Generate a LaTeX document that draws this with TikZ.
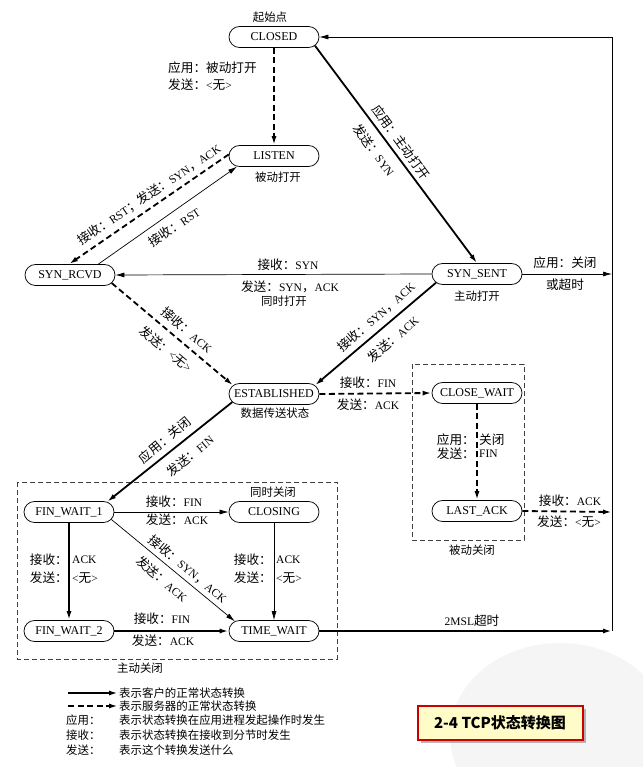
\documentclass[tikz,border=0pt]{standalone}
\usepackage{fontspec}
\setmainfont{Liberation Serif}
\newfontfamily\cjk[Scale=1.1]{Noto Sans CJK SC}
\newfontfamily\cjkt{Noto Sans CJK SC}
\usetikzlibrary{shapes.misc,arrows.meta,shadows}
\newcommand\zh[1]{{\cjk #1}}
\tikzset{
  stt/.style={rounded rectangle, draw, line width=0.75pt, minimum width=92pt,
    minimum height=21pt, inner sep=1pt, font=\fontsize{12}{14}\selectfont},
  lbl/.style={font=\fontsize{11.5}{13}\selectfont, inner sep=0pt},
  note/.style={font=\cjk\fontsize{10.4}{12}\selectfont, inner sep=0pt},
  arr/.style={-{Latex[length=9pt,width=5pt]}},
  client/.style={line width=1.8pt, arr},
  server/.style={line width=1.8pt, dash pattern=on 6pt off 3.5pt, arr},
  plain/.style={line width=0.7pt, arr},
  grp/.style={draw=black!75, line width=0.6pt, dash pattern=on 5pt off 3pt},
}
\begin{document}
\begin{tikzpicture}[x=1pt,y=-1pt]
\useasboundingbox (0,0) rectangle (642,767);
\fill[white] (0,0) rectangle (642,767);
% faint watermark
\fill[black!4] (560,735) ellipse [x radius=110, y radius=92];

% groups
\draw[grp] (412,364) rectangle (524,540);
\draw[grp] (17,482) rectangle (337,659);

% states
\node[stt] (closed) at (274,37) {CLOSED};
\node[stt] (listen) at (274,156) {LISTEN};
\node[stt] (rcvd) at (70,275) {SYN\_RCVD};
\node[stt] (sent) at (477,274) {SYN\_SENT};
\node[stt] (est) at (274,394) {ESTABLISHED};
\node[stt] (cw) at (477,393) {CLOSE\_WAIT};
\node[stt] (la) at (477,511) {LAST\_ACK};
\node[stt] (fw1) at (69,512) {FIN\_WAIT\_1};
\node[stt] (closing) at (274,512) {CLOSING};
\node[stt] (fw2) at (69,631) {FIN\_WAIT\_2};
\node[stt] (tw) at (274,631) {TIME\_WAIT};

\coordinate (r0) at (612,37);
\coordinate (r1) at (612,274);
\coordinate (r2) at (612,512);
\coordinate (r3) at (612,631);

% transitions
\draw[server] (closed.south) -- (listen.north);
\draw[client] (closed.-12) -- (sent.north);
\draw[server] (listen.178) -- (rcvd.95);
\draw[plain] (rcvd.21) -- (listen.196);
\draw[plain] (sent.west) -- (rcvd.east);
\draw[server] (rcvd.-11) -- (est.168);
\draw[client] (sent.192) -- (est.12);
\draw[server] (est.east) -- (cw.west);
\draw[server] (cw.south) -- (la.north);
\draw[server] (la.east) -- (r2);
\draw[client] (est.191) -- (fw1.15);
\draw[plain] (fw1.east) -- (closing.west);
\draw[client] (fw1.south) -- (fw2.north);
\draw[plain] (fw1.-10) -- (tw.166);
\draw[plain] (closing.south) -- (tw.north);
\draw[client] (fw2.east) -- (tw.west);
\draw[client] (tw.east) -- (r3);
\draw[plain] (sent.east) -- (r1);
\draw[plain] (r3) -- (r0) -- (closed.east);

% labels
\node[note] (n0) at (270,17) {起始点};
\node[lbl,anchor=west] (t1) at (168,68) {\zh{应用：被动打开}};
\node[lbl,anchor=west] (t2) at (168,85) {\zh{发送：}<\zh{无}>};
\node[lbl,rotate=-54] (t3) at (401,142) {\zh{应用：主动打开}};
\node[lbl,rotate=-54] (t4) at (374,150) {\zh{发送：}SYN};
\node[lbl,rotate=34] (t5) at (149,195) {\zh{接收：}RST\zh{；发送：}SYN\zh{，}ACK};
\node[lbl,rotate=34] (t6) at (174,227) {\zh{接收：}RST};
\node[note] (n1) at (278,177) {被动打开};
\node[lbl] (t7) at (288,265) {\zh{接收：}SYN};
\node[lbl] (t8) at (290,287) {\zh{发送：}SYN\zh{，}ACK};
\node[note] (n2) at (284,301) {同时打开};
\node[note] (n3) at (477,296) {主动打开};
\node[lbl] (t9) at (565,263) {\zh{应用：关闭}};
\node[lbl] (t10) at (565,285) {\zh{或超时}};
\node[lbl,rotate=-40] (t11) at (187,330) {\zh{接收：}ACK};
\node[lbl,rotate=-40] (t12) at (166,349) {\zh{发送：}<\zh{无}>};
\node[lbl,rotate=41] (t13) at (376,317) {\zh{接收：}SYN\zh{，}ACK};
\node[lbl,rotate=41] (t14) at (393,339) {\zh{发送：}ACK};
\node[lbl] (t15) at (368,383) {\zh{接收：}FIN};
\node[lbl] (t16) at (368,405) {\zh{发送：}ACK};
\node[note] (n4) at (275,413) {数据传送状态};
\node[lbl,anchor=east] (t17) at (475,440) {\zh{应用：}};
\node[lbl,anchor=west] (t18) at (479,440) {\zh{关闭}};
\node[lbl,anchor=east] (t19) at (475,454) {\zh{发送：}};
\node[lbl,anchor=west] (t20) at (479,454) {FIN};
\node[lbl] (t21) at (570,501) {\zh{接收：}ACK};
\node[lbl] (t22) at (569,522) {\zh{发送：}<\zh{无}>};
\node[note] (n5) at (472,550) {被动关闭};
\node[lbl,rotate=40] (t23) at (165,440) {\zh{应用：关闭}};
\node[lbl,rotate=40] (t24) at (190,456) {\zh{发送：}FIN};
\node[lbl] (t25) at (174,502) {\zh{接收：}FIN};
\node[lbl] (t26) at (177,520) {\zh{发送：}ACK};
\node[note] (n6) at (273,492) {同时关闭};
\node[lbl,anchor=east] (t27) at (68,560) {\zh{接收：}};
\node[lbl,anchor=west] (t28) at (72,560) {ACK};
\node[lbl,anchor=east] (t29) at (68,578) {\zh{发送：}};
\node[lbl,anchor=west] (t30) at (72,578) {<\zh{无}>};
\node[lbl,anchor=east] (t31) at (272,560) {\zh{接收：}};
\node[lbl,anchor=west] (t32) at (276,560) {ACK};
\node[lbl,anchor=east] (t33) at (272,578) {\zh{发送：}};
\node[lbl,anchor=west] (t34) at (276,578) {<\zh{无}>};
\node[lbl,rotate=-40] (t35) at (188,569) {\zh{接收：}SYN\zh{，}ACK};
\node[lbl,rotate=-40] (t36) at (162,579) {\zh{发送：}ACK};
\node[lbl] (t37) at (162,619) {\zh{接收：}FIN};
\node[lbl] (t38) at (163,641) {\zh{发送：}ACK};
\node[lbl] (t39) at (472,621) {2MSL\zh{超时}};
\node[note] (n7) at (140,668) {主动关闭};

% legend
\coordinate (la1) at (68,693);
\coordinate (lb1) at (118,693);
\coordinate (la2) at (68,706);
\coordinate (lb2) at (118,706);
\draw[client] (la1) -- (lb1);
\draw[server] (la2) -- (lb2);
\node[note,anchor=west] (g1) at (119,693) {表示客户的正常状态转换};
\node[note,anchor=west] (g2) at (119,706) {表示服务器的正常状态转换};
\node[note,anchor=west] (g3) at (66,720) {应用：};
\node[note,anchor=west] (g4) at (119,720) {表示状态转换在应用进程发起操作时发生};
\node[note,anchor=west] (g5) at (66,735) {接收：};
\node[note,anchor=west] (g6) at (119,735) {表示状态转换在接收到分节时发生};
\node[note,anchor=west] (g7) at (66,750) {发送：};
\node[note,anchor=west] (g8) at (119,750) {表示这个转换发送什么};

% title
\node[draw=red!80!black, line width=2pt, fill=yellow!22,
  drop shadow={shadow xshift=3pt, shadow yshift=-3pt, fill=black!55},
  minimum width=165pt, minimum height=34pt,
  font=\cjkt\bfseries\fontsize{15}{18}\selectfont] (title) at (500,723) {2-4 TCP状态转换图};
\end{tikzpicture}
\end{document}
